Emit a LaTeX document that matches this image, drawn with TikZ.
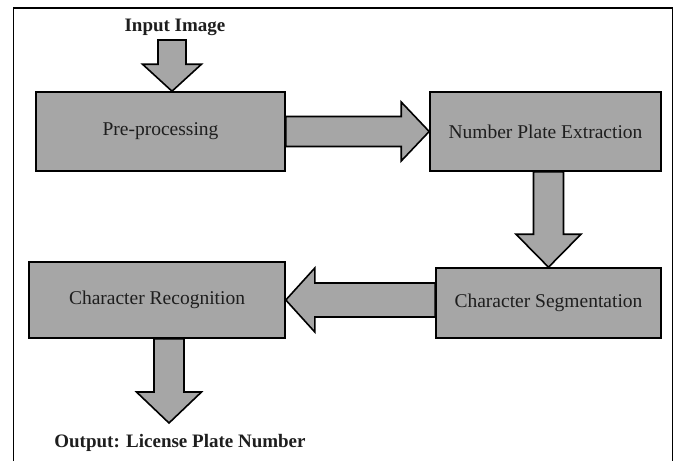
\documentclass[tikz,border=0pt]{standalone}
\usepackage{fontspec}
\setmainfont{Liberation Serif}
\usetikzlibrary{calc, backgrounds}

\definecolor{boxgray}{RGB}{166,166,166}
\definecolor{inkgray}{RGB}{30,30,30}

\tikzset{
    stage/.style={rectangle, draw, line width=1.6pt, fill=boxgray, text=inkgray, inner sep=0pt, font=\fontsize{19.5}{22}\selectfont},
    blockarrow/.style={draw, line width=1.6pt, fill=boxgray, line join=miter},
    iolabel/.style={inner sep=1pt, text=inkgray, font=\fontsize{19}{22}\selectfont\bfseries}
}

\begin{document}
\begin{tikzpicture}[x=1pt, y=-1pt]
    \useasboundingbox (0,0) rectangle (678,461);

    % Outer frame (open at the bottom)
    \draw[line width=1.3pt] (13.5,461) -- (13.5,8) -- (672.5,8) -- (672.5,461);

    % Stages
    \node[stage, minimum width=249, minimum height=79] (pre) at (160.5,131.5) {Pre-processing};
    \node[stage, minimum width=231, minimum height=79] (npe) at (545.5,131.5) {Number Plate Extraction};
    \node[stage, minimum width=225, minimum height=70] (seg) at (548.5,303) {Character Segmentation};
    \node[stage, minimum width=256, minimum height=76] (rec) at (157,300) {Character Recognition};

    % Input and output
    \node[iolabel] (input) at (175,27) {Input Image};
    \node[iolabel] (output) at (180,443) {Output: License Plate Number};
    \coordinate (inTail) at (172,40);
    \coordinate (inTip) at (inTail |- pre.north);
    \coordinate (outTip) at (169,423);
    \coordinate (outTail) at (outTip |- rec.south);
    \coordinate (segTail) at (npe.south -| seg.north);
    \coordinate (recTail) at (seg.west |- rec.east);

    % Block arrows
    \begin{scope}[on background layer]
        \draw[blockarrow] ($(inTail)+(-14,0)$) -- ($(inTip)+(-14,-27)$) -- ($(inTip)+(-29.5,-27)$) -- (inTip)
            -- ($(inTip)+(29.5,-27)$) -- ($(inTip)+(14,-27)$) -- ($(inTail)+(14,0)$) -- cycle;
        \draw[blockarrow] ($(pre.east)+(0,-15)$) -- ($(npe.west)+(-28,-15)$) -- ($(npe.west)+(-28,-29.5)$) -- (npe.west)
            -- ($(npe.west)+(-28,29.5)$) -- ($(npe.west)+(-28,15)$) -- ($(pre.east)+(0,15)$) -- cycle;
        \draw[blockarrow] ($(segTail)+(-15,0)$) -- ($(seg.north)+(-15,-33)$) -- ($(seg.north)+(-32.5,-33)$) -- (seg.north)
            -- ($(seg.north)+(32.5,-33)$) -- ($(seg.north)+(15,-33)$) -- ($(segTail)+(15,0)$) -- cycle;
        \draw[blockarrow] ($(recTail)+(0,-17)$) -- ($(rec.east)+(29,-17)$) -- ($(rec.east)+(29,-32)$) -- (rec.east)
            -- ($(rec.east)+(29,32)$) -- ($(rec.east)+(29,17)$) -- ($(recTail)+(0,17)$) -- cycle;
        \draw[blockarrow] ($(outTail)+(-15,0)$) -- ($(outTip)+(-15,-31)$) -- ($(outTip)+(-32.5,-31)$) -- (outTip)
            -- ($(outTip)+(32.5,-31)$) -- ($(outTip)+(15,-31)$) -- ($(outTail)+(15,0)$) -- cycle;
    \end{scope}
\end{tikzpicture}
\end{document}
